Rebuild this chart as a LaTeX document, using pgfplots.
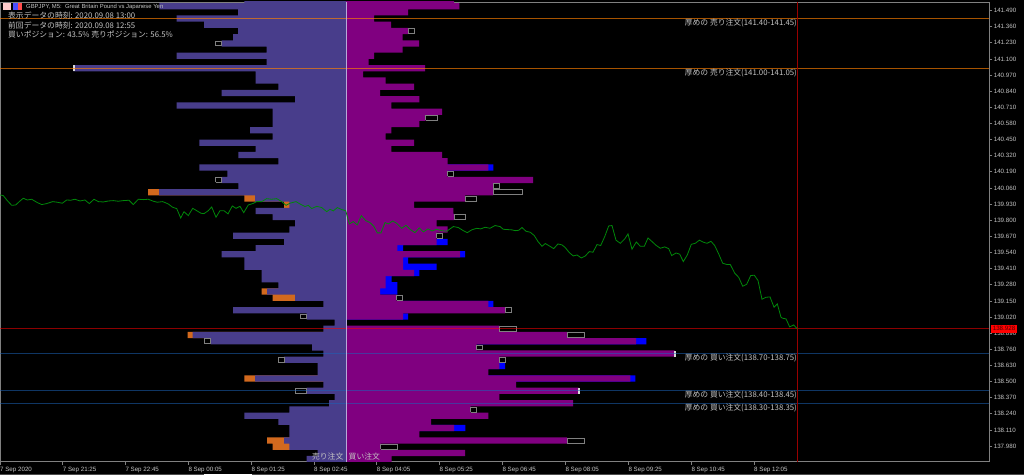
\documentclass[border=0pt]{standalone}
\usepackage{pgfplots}
\pgfplotsset{compat=1.18}
\usepackage{pgfplotstable}
\usepackage{fontspec}
\setmainfont{Liberation Sans}
\newfontfamily\jp{Noto Sans CJK JP}
\definecolor{sellc}{HTML}{483D8B}
\definecolor{buyc}{HTML}{800080}
\definecolor{sellprev}{HTML}{D2691E}
\definecolor{buyprev}{HTML}{0000FF}
\definecolor{axc}{HTML}{808080}
\definecolor{txt}{HTML}{C4C4C4}
\pgfplotstableread{
y sell buy
141.575 -101.7 108
141.525 -186.7 113.3
141.475 -108 62
141.425 -169.3 28
141.375 -142 45
141.325 -108 62
141.275 -113 56.7
141.225 -124.3 73
141.175 -79.3 56.7
141.125 -169.3 28
141.075 -79.3 22.7
141.025 -272.7 79
140.975 -90.3 17
140.925 -90.3 39.7
140.875 -67.7 68
140.825 -124.3 34
140.775 -51 73.3
140.725 -169.3 45.3
140.675 -73.3 96
140.625 -73.3 79.7
140.575 -73.3 73.3
140.525 -96 45.3
140.475 -73.3 39.7
140.425 -146.7 68
140.375 -90.3 45.3
140.325 -107.7 96
140.275 -67.7 101.7
140.225 -146.7 142.3
140.175 -118.7 101.7
140.125 -124.3 187
140.075 -107.7 147
140.025 -187 147
139.975 -91 119
139.925 -56.7 68
139.875 -90.3 107.3
139.825 -73.3 108
139.775 -51 90.7
139.725 -56.7 101.7
139.675 -113 90.7
139.625 -62 90.7
139.575 -90.3 51.3
139.525 -124.3 114
139.475 -101.7 57
139.425 -101.7 57
139.375 -84.3 68
139.325 -84.3 39.7
139.275 -67.7 39.7
139.225 -79 34
139.175 -51 50.7
139.125 -22.7 142.3
139.075 -113 159
139.025 -39.3 57
138.975 -11.3 0
138.925 -22.7 153.3
138.875 -153.3 221
138.825 -135.3 290
138.775 -34 130.7
138.725 -22.7 328.7
138.675 -62 153.3
138.625 -28.3 153.3
138.575 -28.3 142.3
138.525 -91 284.3
138.475 -22.7 170
138.425 -39.3 232.7
138.375 -11.3 153.3
138.325 -17 227
138.275 -56.7 124.7
138.225 -101.7 142.3
138.175 -67.7 85
138.125 -56.7 108
138.075 -56.7 73.3
138.025 -62 221
137.975 -56.7 34.7
137.925 -28.3 119
137.875 -39.3 45.7
}\rows
\pgfplotstableread{
y v
140.025 -198
139.975 -101.7
139.925 -62
139.225 -84.3
139.175 -73.3
138.875 -158.3
138.525 -101.7
138.025 -79
137.975 -73.3
}\sellprevdata
\pgfplotstableread{
y v
140.225 147.3
139.625 101.7
139.575 57
139.525 119
139.475 62
139.425 90.7
139.375 73.3
139.325 45.7
139.275 51.3
139.225 51.3
139.125 147.3
139.025 62
138.825 300.3
138.625 159
138.525 289.3
138.125 119.3
}\buyprevdata
\pgfplotstableread{
x y
-346 140.004
-342.7 139.998
-338.7 139.958
-334.3 139.920
-330.3 139.923
-326.7 139.950
-322.7 139.977
-318.7 139.963
-314.3 139.969
-309.3 139.945
-304.3 139.926
-299.3 139.934
-293.3 139.950
-288.7 139.945
-283.7 139.937
-279.3 139.963
-275.3 139.961
-271 139.969
-266 139.955
-261 139.963
-256.7 139.934
-252 139.969
-247.7 139.950
-242.7 139.947
-237.7 139.955
-232.7 139.958
-227.7 139.953
-222.7 139.958
-217 139.961
-212.7 139.926
-207.7 139.969
-202.7 139.966
-197.7 139.969
-192.7 139.953
-188.7 139.945
-183.3 139.950
-177.7 139.931
-173.3 139.904
-169.3 139.894
-165.3 139.818
-162 139.869
-157.7 139.837
-153.3 139.896
-149.3 139.877
-145 139.856
-142 139.853
-137.7 139.877
-134.3 139.907
-130 139.824
-126 139.877
-122 139.877
-118 139.851
-113.7 139.915
-110 139.896
-106 139.912
-102.3 139.861
-97.7 139.923
-93.3 139.934
-89.3 139.950
-84.3 139.950
-79.3 139.974
-74.3 139.969
-69.3 139.974
-64.3 139.950
-60 139.920
-56 139.937
-50 139.950
-46 139.931
-41 139.910
-37.7 139.920
-34.3 139.894
-29.3 139.912
-24.3 139.902
-19.3 139.869
-16 139.888
-12.7 139.875
-8.7 139.902
-4.3 139.886
-0.3 139.877
3.3 139.770
7.3 139.789
11.3 139.762
15.3 139.837
19.7 139.797
24 139.781
28 139.749
31.3 139.698
35 139.698
39 139.781
42.3 139.770
46.7 139.794
50.7 139.775
55.7 139.735
60 139.759
64 139.727
69 139.700
73.3 139.738
77.3 139.706
82 139.730
86 139.714
90.7 139.727
95.7 139.716
100.7 139.711
107.3 139.749
112.3 139.741
117.3 139.716
121.3 139.700
125.7 139.722
130.7 139.735
134.7 139.730
139 139.743
144 139.735
149 139.757
154 139.749
157.3 139.727
166 139.722
169.3 139.716
172.7 139.719
176 139.741
180 139.711
184.3 139.703
188.3 139.676
192 139.628
196 139.590
199.3 139.612
203.3 139.593
207.7 139.571
212 139.609
216 139.601
219.3 139.579
223.3 139.539
227.3 139.512
231 139.520
235.3 139.496
239.3 139.512
243.3 139.547
247 139.542
251 139.604
254.7 139.596
258.7 139.668
262.7 139.754
266 139.757
270 139.639
274.3 139.614
278.7 139.649
282 139.690
286 139.566
290.3 139.625
294.3 139.590
298.3 139.590
302 139.657
306 139.628
310 139.598
314.3 139.574
318.7 139.585
322.7 139.571
325.7 139.515
330 139.536
333.7 139.526
337.3 139.467
341.3 139.520
345.3 139.606
349.3 139.614
353.3 139.639
357.7 139.622
361 139.614
365 139.630
368.7 139.596
372.7 139.528
376.7 139.453
381 139.443
384.3 139.443
388.7 139.373
392.7 139.340
396.7 139.268
400.7 139.284
404.7 139.354
408.3 139.357
412 139.314
416 139.163
420 139.179
424 139.182
428 139.099
431.3 139.126
435 139.018
436.7 139.010
440 139.005
443.7 138.940
447.7 138.956
451.3 138.924
}\priceline
% previous-data boxes: x from, x to, row low, row high
\newcommand\ob[4]{\addplot[draw=axc,fill=black,line width=0.8pt,forget plot] coordinates {(#1,#3)(#2,#3)(#2,#4)(#1,#4)(#1,#3)};}
\newcommand\wm[4]{\addplot[draw=white!85!black,fill=white,line width=0.5pt,forget plot] coordinates {(#1,#3)(#2,#3)(#2,#4)(#1,#4)(#1,#3)};}
\newcommand\hl[3]{\addplot[draw=#1,opacity=#3,line width=0.9pt,forget plot] coordinates {(-346,#2)(643.3,#2)};}
\begin{document}
\begin{tikzpicture}[x=1pt,y=1pt]
\useasboundingbox (0,0) rectangle (1024,475);
\fill[black] (0,0) rectangle (1024,475);
\fill[black!70] (0,0) rectangle (1024,1.2);
\fill[white] (204,0) rectangle (252,1.2);
\begin{axis}[
  at={(0pt,13.3pt)},anchor=south west,scale only axis,
  width=989.3pt,height=459.7pt,
  xmin=-346,xmax=643.3,ymin=137.854,ymax=141.5585,
  axis line style={draw=axc,line width=0.8pt},
  tick style={draw=axc,line width=0.7pt},
  ytick={137.98,138.11,138.24,138.37,138.5,138.63,138.76,138.89,139.02,139.15,139.28,139.41,139.54,139.67,139.8,139.93,140.06,140.19,140.32,140.45,140.58,140.71,140.84,140.97,141.1,141.23,141.36,141.49},
  ytick pos=right,yticklabel pos=right,
  tick align=outside,major tick length=3pt,
  y tick label style={/pgf/number format/fixed,/pgf/number format/fixed zerofill,/pgf/number format/precision=3,/pgf/number format/1000 sep={},/pgf/number format/assume math mode=true,font=\fontsize{6.2}{8}\selectfont,text=txt,xshift=-2pt},
  xtick={-346,-283.3,-220.7,-157.7,-94.7,-32,30.7,93.3,156.3,219.3,282.3,345.3,408},
  xticklabels={7 Sep 2020,7 Sep 21:25,7 Sep 22:45,8 Sep 00:05,8 Sep 01:25,8 Sep 02:45,8 Sep 04:05,8 Sep 05:25,8 Sep 06:45,8 Sep 08:05,8 Sep 09:25,8 Sep 10:45,8 Sep 12:05},
  xticklabel pos=lower,xtick pos=lower,
  x tick label style={anchor=north west,font=\fontsize{6.2}{8}\selectfont,text=txt,inner xsep=0pt,yshift=1pt},
]
\addplot[xbar,/pgf/bar shift=0pt,bar width=6.25pt,draw=none,fill=sellprev,forget plot] table[x=v,y=y] {\sellprevdata};
\addplot[xbar,/pgf/bar shift=0pt,bar width=6.25pt,draw=none,fill=sellc,forget plot] table[x=sell,y=y] {\rows};
\addplot[xbar,/pgf/bar shift=0pt,bar width=6.25pt,draw=none,fill=buyprev,forget plot] table[x=v,y=y] {\buyprevdata};
\addplot[xbar,/pgf/bar shift=0pt,bar width=6.25pt,draw=none,fill=buyc,forget plot] table[x=buy,y=y] {\rows};
% boxes
\ob{62}{68}{141.305}{141.345}
\ob{-130.5}{-124.3}{141.205}{141.245}
\ob{79.7}{91}{140.605}{140.645}
\ob{101.7}{107.7}{140.155}{140.195}
\ob{-130.5}{-124.3}{140.105}{140.145}
\ob{147}{153}{140.055}{140.095}
\ob{147}{176.3}{140.005}{140.045}
\ob{119}{130.7}{139.955}{139.995}
\ob{108}{119}{139.805}{139.845}
\ob{90.7}{96.7}{139.655}{139.695}
\ob{50.7}{56.7}{139.155}{139.195}
\ob{159}{165}{139.055}{139.095}
\ob{-45.3}{-39.3}{139.005}{139.045}
\ob{153.3}{170}{138.905}{138.945}
\ob{221}{238.3}{138.855}{138.895}
\ob{-142}{-135.3}{138.805}{138.845}
\ob{130.7}{136.3}{138.755}{138.795}
\ob{-67.7}{-62}{138.655}{138.695}
\ob{153.3}{159}{138.655}{138.695}
\ob{-51}{-39.3}{138.405}{138.445}
\ob{124.7}{130.7}{138.255}{138.295}
\ob{221}{238.3}{138.005}{138.045}
\ob{34.7}{51.3}{137.955}{137.995}
\wm{-272.7}{-271.8}{141.005}{141.045}
\wm{328.0}{328.9}{138.705}{138.745}
\wm{232.0}{232.9}{138.405}{138.445}
% level lines
\hl{orange}{141.425}{0.65}
\hl{orange}{141.025}{0.65}
\hl{red}{138.928}{0.55}
\hl{cyan!40!blue}{138.725}{0.55}
\hl{cyan!40!blue}{138.425}{0.55}
\hl{cyan!40!blue}{138.325}{0.55}
\addplot[draw=red!60!black,line width=0.9pt,forget plot] coordinates {(451.3,137.854)(451.3,141.5585)};
\addplot[draw={rgb,255:red,184;green,168;blue,216},line width=1pt,forget plot] coordinates {(0,137.854)(0,141.5585)};
\addplot[draw={rgb,255:red,0;green,135;blue,10},line width=0.8pt,forget plot] table[x=x,y=y] {\priceline};
\end{axis}
% text annotations
\fill[red] (990.5,142.5) rectangle (1017,150);
\node[anchor=center,inner sep=0pt,text=black!70!red,font=\fontsize{6.2}{8}\selectfont] at (1004,146.3) {138.928};
\fill[white!80!red] (2.5,464.5) rectangle (10.5,472);
\fill[blue!70] (13,464.5) rectangle (17.5,472);
\fill[red!70] (17.5,464.5) rectangle (21.5,472);
\node[anchor=west,inner sep=0pt,text=txt,font=\fontsize{5.9}{7}\selectfont] at (26,468) {GBPJPY, M5:\ \ Great Britain Pound vs Japanese Yen};
\begin{scope}[every node/.style={inner sep=0pt,text=txt,font=\jp\fontsize{7.8}{10}\selectfont}]
\node[anchor=west] at (8,460) {表示データの時刻: 2020.09.08 13:00};
\node[anchor=west] at (8,450) {前回データの時刻: 2020.09.08 12:55};
\node[anchor=west] at (8,440) {買いポジション: 43.5\% 売りポジション: 56.5\%};
\node[anchor=east] at (797,452) {厚めの 売り注文(141.40-141.45)};
\node[anchor=east] at (797,402.5) {厚めの 売り注文(141.00-141.05)};
\node[anchor=east] at (797,117.5) {厚めの 買い注文(138.70-138.75)};
\node[anchor=east] at (797,80) {厚めの 買い注文(138.40-138.45)};
\node[anchor=east] at (797,67.5) {厚めの 買い注文(138.30-138.35)};
\node[anchor=east] at (343.5,18) {売り注文};
\node[anchor=west] at (348.5,18) {買い注文};
\end{scope}
\end{tikzpicture}
\end{document}
